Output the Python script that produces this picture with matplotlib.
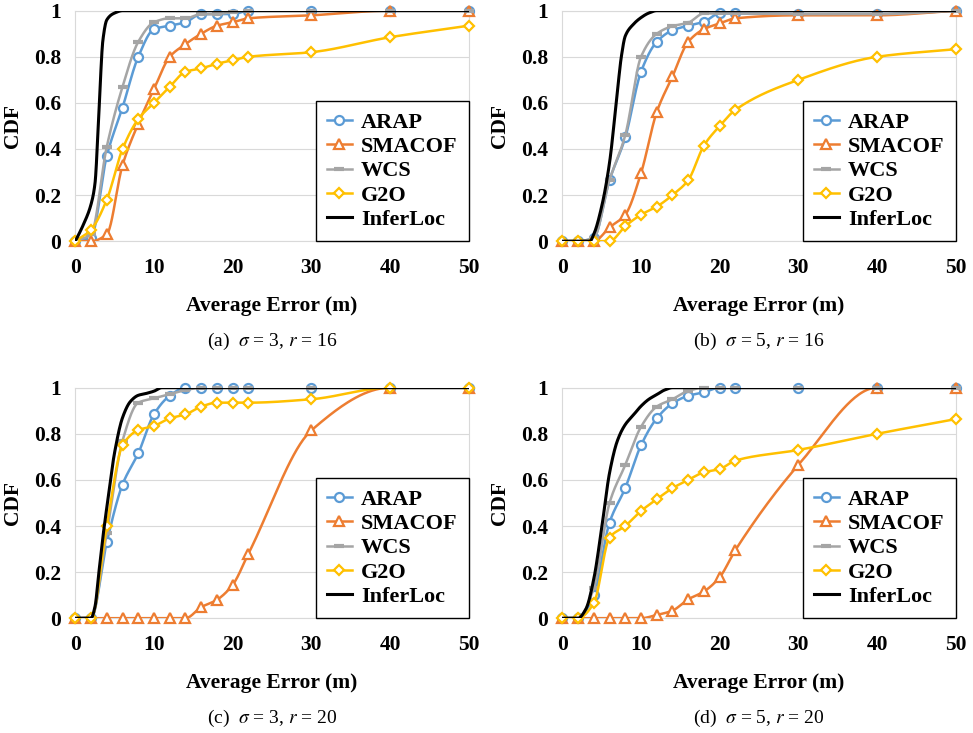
import numpy as np
import matplotlib
matplotlib.use("Agg")
import matplotlib.pyplot as plt
from matplotlib.lines import Line2D

# error thresholds (m) shared by the four baseline series
x = [0, 2, 4, 6, 8, 10, 12, 14, 16, 18, 20, 22, 30, 40, 50]

# (a) sigma=3, r=16
arap_a = [0, 0.016, 0.37, 0.58, 0.80, 0.92, 0.935, 0.95, 0.985, 0.985, 0.985, 1, 1, 1, 1]
smacof_a = [0, 0, 0.03, 0.33, 0.51, 0.66, 0.80, 0.855, 0.90, 0.935, 0.95, 0.967, 0.98, 1, 1]
wcs_a = [0, 0.03, 0.41, 0.67, 0.865, 0.95, 0.967, 0.967, 0.985, 0.985, 0.995, 1, 1, 1, 1]
g2o_a = [0, 0.05, 0.18, 0.40, 0.53, 0.60, 0.67, 0.735, 0.75, 0.77, 0.785, 0.80, 0.82, 0.885, 0.935]
inf_x_a = [0, 1, 2, 2.5, 3, 3.5, 4, 5, 6, 50]
inf_a = [0, 0.07, 0.16, 0.25, 0.56, 0.87, 0.96, 0.99, 1, 1]

# (b) sigma=5, r=16
arap_b = [0, 0, 0.015, 0.265, 0.45, 0.735, 0.865, 0.915, 0.935, 0.952, 0.988, 0.988, 0.985, 0.985, 1]
smacof_b = [0, 0, 0, 0.06, 0.115, 0.295, 0.56, 0.715, 0.865, 0.92, 0.945, 0.967, 0.98, 0.98, 1]
wcs_b = [0, 0, 0.015, 0.265, 0.46, 0.80, 0.90, 0.933, 0.948, 0.988, 0.988, 0.988, 0.985, 0.985, 1]
g2o_b = [0, 0, 0, 0, 0.065, 0.115, 0.15, 0.20, 0.265, 0.415, 0.50, 0.57, 0.70, 0.80, 0.833]
inf_x_b = [0, 2, 3.5, 4, 5, 6, 7, 7.5, 8, 9, 10, 11, 12, 50]
inf_b = [0, 0, 0, 0.03, 0.15, 0.34, 0.65, 0.80, 0.89, 0.94, 0.97, 0.99, 1, 1]

# (c) sigma=3, r=20
arap_c = [0, 0, 0.33, 0.58, 0.715, 0.885, 0.965, 1, 1, 1, 1, 1, 1, 1, 1]
smacof_c = [0, 0, 0, 0, 0, 0, 0, 0, 0.048, 0.08, 0.145, 0.28, 0.815, 1, 1]
wcs_c = [0, 0, 0.37, 0.77, 0.935, 0.954, 0.972, 0.99, 1, 1, 1, 1, 1, 1, 1]
g2o_c = [0, 0, 0.40, 0.75, 0.816, 0.834, 0.867, 0.884, 0.918, 0.935, 0.935, 0.935, 0.95, 1, 1]
inf_x_c = [0, 2, 2.5, 3, 3.5, 4, 5, 6, 7, 8, 9, 10, 11, 50]
inf_c = [0, 0, 0.05, 0.2, 0.35, 0.48, 0.72, 0.87, 0.94, 0.967, 0.975, 0.985, 1, 1]

# (d) sigma=5, r=20
arap_d = [0, 0, 0.10, 0.415, 0.565, 0.75, 0.867, 0.932, 0.965, 0.98, 1, 1, 1, 1, 1]
smacof_d = [0, 0, 0, 0, 0, 0, 0.014, 0.033, 0.082, 0.116, 0.178, 0.296, 0.665, 1, 1]
wcs_d = [0, 0, 0.13, 0.50, 0.665, 0.83, 0.918, 0.95, 0.986, 1, 1, 1, 1, 1, 1]
g2o_d = [0, 0, 0.065, 0.35, 0.40, 0.465, 0.516, 0.564, 0.60, 0.633, 0.647, 0.684, 0.73, 0.80, 0.864]
inf_x_d = [0, 2, 3, 4, 5, 6, 7, 8, 9, 10, 11, 12, 13, 14, 50]
inf_d = [0, 0, 0.04, 0.17, 0.39, 0.63, 0.77, 0.84, 0.88, 0.92, 0.95, 0.97, 0.99, 1, 1]

names = ["ARAP", "SMACOF", "WCS", "G2O", "InferLoc"]
captions = [r"(a)  $\sigma$ = 3, $r$ = 16", r"(b)  $\sigma$ = 5, $r$ = 16",
            r"(c)  $\sigma$ = 3, $r$ = 20", r"(d)  $\sigma$ = 5, $r$ = 20"]

colors = ["#5B9BD5", "#ED7D31", "#A5A5A5", "#FFC000", "black"]
markers = ["o", "^", "_", "D", None]
msizes = [6.5, 6.5, 7, 5, 0]

plt.rcParams["font.family"] = ["Liberation Serif", "DejaVu Serif"]
plt.rcParams["mathtext.fontset"] = "stix"


def smooth(xs, ys):
    # monotone cubic (like the smoothed lines of the original)
    xs = np.asarray(xs, float)
    ys = np.asarray(ys, float)
    h = np.diff(xs)
    d = np.diff(ys) / h
    m = np.zeros(len(xs))
    m[0], m[-1] = d[0], d[-1]
    for k in range(1, len(xs) - 1):
        if d[k - 1] * d[k] > 0:
            w1 = 2 * h[k] + h[k - 1]
            w2 = h[k] + 2 * h[k - 1]
            m[k] = (w1 + w2) / (w1 / d[k - 1] + w2 / d[k])
    px, py = [], []
    for k in range(len(xs) - 1):
        t = np.linspace(0, 1, 40)
        h00 = 2 * t**3 - 3 * t**2 + 1
        h10 = t**3 - 2 * t**2 + t
        h01 = -2 * t**3 + 3 * t**2
        h11 = t**3 - t**2
        px.append(xs[k] + t * h[k])
        py.append(h00 * ys[k] + h10 * h[k] * m[k] + h01 * ys[k + 1] + h11 * h[k] * m[k + 1])
    return np.concatenate(px), np.concatenate(py)


W, H = 973, 733
fig = plt.figure(figsize=(W / 100, H / 100), dpi=100)

panels = [
    (75.3, 10.7, [arap_a, smacof_a, wcs_a, g2o_a], inf_x_a, inf_a),
    (562.3, 10.7, [arap_b, smacof_b, wcs_b, g2o_b], inf_x_b, inf_b),
    (75.3, 387.7, [arap_c, smacof_c, wcs_c, g2o_c], inf_x_c, inf_c),
    (562.3, 387.7, [arap_d, smacof_d, wcs_d, g2o_d], inf_x_d, inf_d),
]

for i, (left, top, series, ix, iy) in enumerate(panels):
    ax = fig.add_axes([left / W, 1 - (top + 230.5) / H, 393.5 / W, 230.5 / H])
    for j, ys in enumerate(series):
        sx, sy = smooth(x, ys)
        ax.plot(sx, sy, color=colors[j], lw=1.8, zorder=2 + j)
        ax.plot(x, ys, ls="none", marker=markers[j], ms=msizes[j],
                mfc="white", mec=colors[j], mew=1.6 if j != 2 else 3,
                clip_on=False, zorder=2 + j)
    sx, sy = smooth(ix, iy)
    ax.plot(sx, sy, color="black", lw=2.2, zorder=8)

    ax.set_xlim(0, 50)
    ax.set_ylim(0, 1)
    ax.set_xticks([0, 10, 20, 30, 40, 50])
    ax.set_yticks([0, 0.2, 0.4, 0.6, 0.8, 1], ["0", "0.2", "0.4", "0.6", "0.8", "1"])
    ax.tick_params(length=0, labelsize=15.5)
    ax.tick_params(axis="x", pad=12)
    ax.tick_params(axis="y", pad=10)
    for lbl in ax.get_xticklabels() + ax.get_yticklabels():
        lbl.set_fontweight("bold")
    ax.yaxis.grid(True, color="#d9d9d9", lw=0.8)
    ax.set_axisbelow(True)
    for s in ax.spines.values():
        s.set_color("#d9d9d9")
        s.set_linewidth(0.8)
    ax.set_ylabel("CDF", fontsize=15.5, fontweight="bold", labelpad=8)
    ax.set_xlabel("Average Error (m)", fontsize=15.5, fontweight="bold", labelpad=13)

    handles = []
    for j in range(5):
        handles.append(Line2D([], [], color=colors[j], lw=1.8 if j < 4 else 2.2,
                              marker=markers[j], ms=msizes[j], mfc="white",
                              mec=colors[j], mew=1.6 if j != 2 else 3))
    leg = ax.legend(handles, names, loc="lower right", bbox_to_anchor=(1, 0),
                    borderaxespad=0, handlelength=1.15,
                    prop={"size": 16, "weight": "bold"},
                    handletextpad=0.4, labelspacing=0.17, borderpad=0.5,
                    fancybox=False, framealpha=1, edgecolor="black")
    leg.get_frame().set_linewidth(1.0)
    leg.set_zorder(20)

    fig.text((left + 196.7) / W, 1 - (top + 331) / H, captions[i],
             ha="center", va="center", fontsize=14, fontweight="normal")

fig.savefig("out.png", dpi=100)
